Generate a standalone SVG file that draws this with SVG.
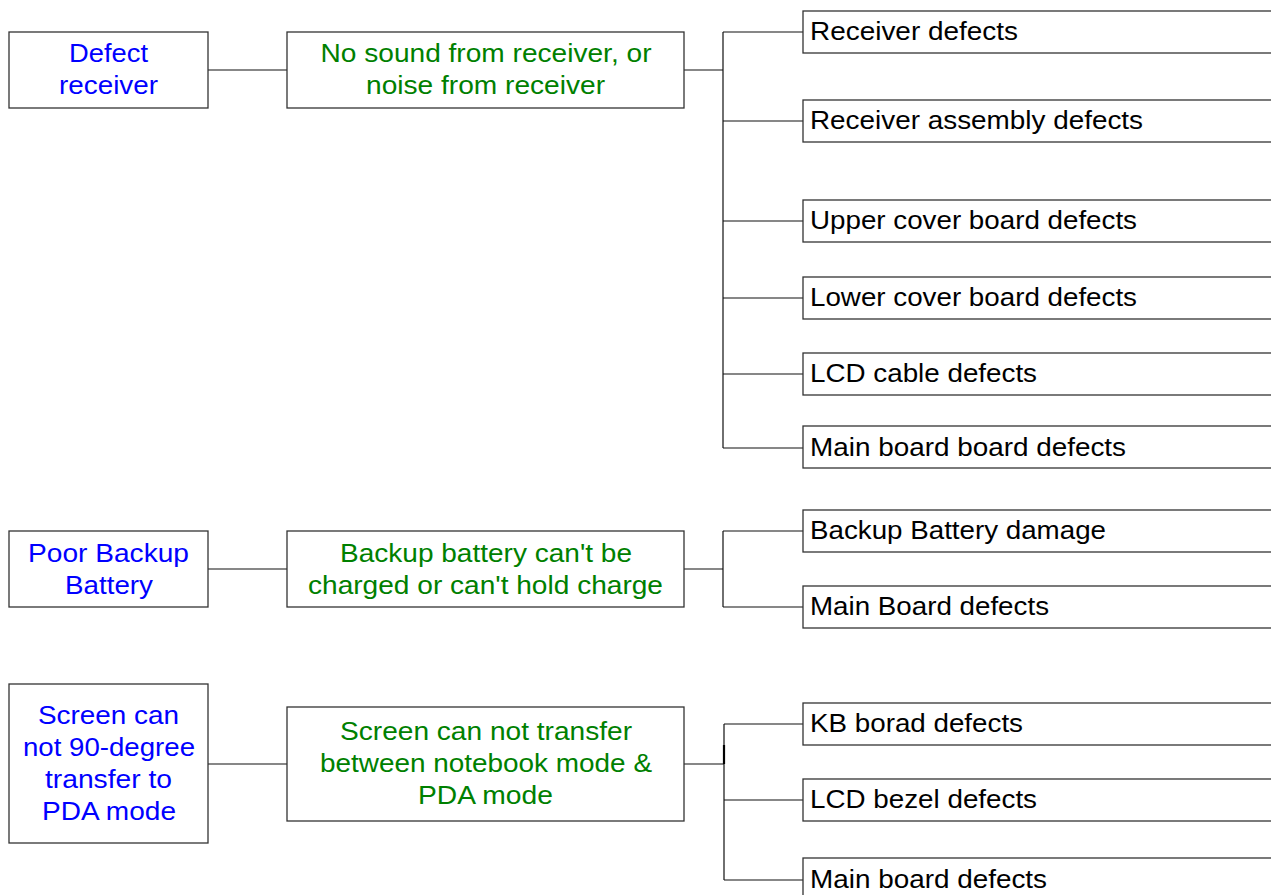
<svg xmlns="http://www.w3.org/2000/svg" width="1271" height="895" viewBox="0 0 1271 895">
<style>
.box{fill:#fff;stroke:#333;stroke-width:1.3}
.ln{stroke:#111;stroke-width:1.2;fill:none}
text{font-family:"Liberation Sans",Arial,sans-serif;font-size:25.5px}
.b{fill:#0000ff;text-anchor:middle}
.g{fill:#008000;text-anchor:middle}
.k{fill:#000}
</style>
<rect width="1271" height="895" fill="#fff"/>
<g id="connectors">
<path class="ln" d="M208,70H287M684,70H723M723,32V448M723,32H803M723,121H803M723,221H803M723,298H803M723,374H803M723,448H803"/>
<path class="ln" d="M208,569H287M684,569H723M723,531V607M723,531H803M723,607H803"/>
<path class="ln" d="M208,764H287M684,764H724M724,724V880M724,724H803M724,800H803M724,880H803"/>
<path d="M724,745V764" stroke="#000" stroke-width="2.2"/>
</g>
<g id="n-defect-receiver"><rect class="box" x="9" y="32" width="199" height="76"/>
<text class="b" x="108.5" y="62" textLength="79" lengthAdjust="spacingAndGlyphs">Defect</text>
<text class="b" x="108.5" y="94" textLength="99" lengthAdjust="spacingAndGlyphs">receiver</text></g>
<g id="n-no-sound"><rect class="box" x="287" y="32" width="397" height="76"/>
<text class="g" x="486" y="62" textLength="331" lengthAdjust="spacingAndGlyphs">No sound from receiver, or</text>
<text class="g" x="485.5" y="94" textLength="239" lengthAdjust="spacingAndGlyphs">noise from receiver</text></g>
<g id="n-r1"><rect class="box" x="803" y="11" width="480" height="42"/><text class="k" x="810" y="40" textLength="208" lengthAdjust="spacingAndGlyphs">Receiver defects</text></g>
<g id="n-r2"><rect class="box" x="803" y="100" width="480" height="42"/><text class="k" x="810" y="129" textLength="333" lengthAdjust="spacingAndGlyphs">Receiver assembly defects</text></g>
<g id="n-r3"><rect class="box" x="803" y="200" width="480" height="42"/><text class="k" x="810" y="229" textLength="327" lengthAdjust="spacingAndGlyphs">Upper cover board defects</text></g>
<g id="n-r4"><rect class="box" x="803" y="277" width="480" height="42"/><text class="k" x="810" y="306" textLength="327" lengthAdjust="spacingAndGlyphs">Lower cover board defects</text></g>
<g id="n-r5"><rect class="box" x="803" y="353" width="480" height="42"/><text class="k" x="810" y="382" textLength="227" lengthAdjust="spacingAndGlyphs">LCD cable defects</text></g>
<g id="n-r6"><rect class="box" x="803" y="426" width="480" height="42"/><text class="k" x="810" y="455.5" textLength="316" lengthAdjust="spacingAndGlyphs">Main board board defects</text></g>
<g id="n-poor-backup"><rect class="box" x="9" y="531" width="199" height="76"/>
<text class="b" x="108.5" y="561.5" textLength="161" lengthAdjust="spacingAndGlyphs">Poor Backup</text>
<text class="b" x="109" y="593.5" textLength="88" lengthAdjust="spacingAndGlyphs">Battery</text></g>
<g id="n-backup-charge"><rect class="box" x="287" y="531" width="397" height="76"/>
<text class="g" x="486" y="561.5" textLength="292" lengthAdjust="spacingAndGlyphs">Backup battery can't be</text>
<text class="g" x="485.5" y="593.5" textLength="355" lengthAdjust="spacingAndGlyphs">charged or can't hold charge</text></g>
<g id="n-b1"><rect class="box" x="803" y="510" width="480" height="42"/><text class="k" x="810" y="538.5" textLength="296" lengthAdjust="spacingAndGlyphs">Backup Battery damage</text></g>
<g id="n-b2"><rect class="box" x="803" y="586" width="480" height="42"/><text class="k" x="810" y="614.5" textLength="239" lengthAdjust="spacingAndGlyphs">Main Board defects</text></g>
<g id="n-screen-90"><rect class="box" x="9" y="684" width="199" height="159"/>
<text class="b" x="108.5" y="724" textLength="141" lengthAdjust="spacingAndGlyphs">Screen can</text>
<text class="b" x="109" y="756" textLength="172" lengthAdjust="spacingAndGlyphs">not 90-degree</text>
<text class="b" x="108.5" y="788" textLength="127" lengthAdjust="spacingAndGlyphs">transfer to</text>
<text class="b" x="109" y="819.5" textLength="134" lengthAdjust="spacingAndGlyphs">PDA mode</text></g>
<g id="n-screen-transfer"><rect class="box" x="287" y="707" width="397" height="114"/>
<text class="g" x="486" y="740" textLength="292" lengthAdjust="spacingAndGlyphs">Screen can not transfer</text>
<text class="g" x="486" y="772" textLength="332" lengthAdjust="spacingAndGlyphs">between notebook mode &amp;</text>
<text class="g" x="485.5" y="803.5" textLength="135" lengthAdjust="spacingAndGlyphs">PDA mode</text></g>
<g id="n-s1"><rect class="box" x="803" y="703" width="480" height="42"/><text class="k" x="810" y="731.5" textLength="213" lengthAdjust="spacingAndGlyphs">KB borad defects</text></g>
<g id="n-s2"><rect class="box" x="803" y="779" width="480" height="42"/><text class="k" x="810" y="807.5" textLength="227" lengthAdjust="spacingAndGlyphs">LCD bezel defects</text></g>
<g id="n-s3"><rect class="box" x="803" y="858" width="480" height="42"/><text class="k" x="810" y="887.5" textLength="237" lengthAdjust="spacingAndGlyphs">Main board defects</text></g>
</svg>
